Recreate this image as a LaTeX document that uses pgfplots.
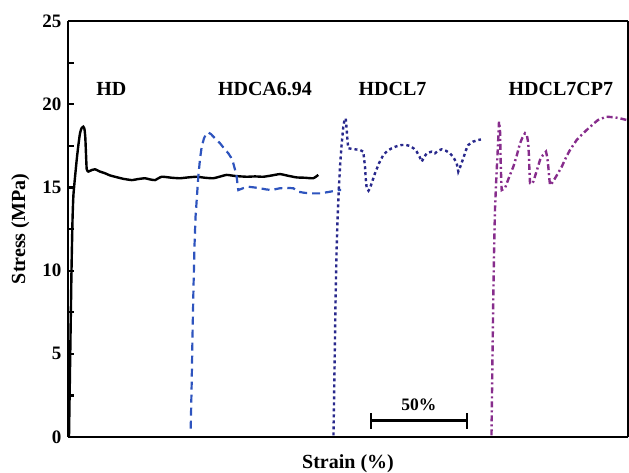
\documentclass[border=0pt]{standalone}
\usepackage{pgfplots}
\pgfplotsset{compat=1.18}
\usepackage{fontspec}
\setmainfont{Liberation Serif}
\definecolor{cablue}{RGB}{46,84,190}
\definecolor{clnavy}{RGB}{40,40,140}
\definecolor{cppurple}{RGB}{135,45,140}
\begin{document}
\begin{tikzpicture}
\useasboundingbox (-68pt,-35pt) rectangle (561pt,437pt);
\begin{axis}[
  at={(0pt,0pt)}, anchor=south west,
  scale only axis, width=560pt, height=416pt,
  xmin=0, xmax=291.67, ymin=0, ymax=25,
  axis lines=left, axis line style={-, line width=2.8pt},
  xtick=\empty,
  ytick={0,5,10,15,20,25},
  minor ytick={2.5,7.5,12.5,17.5,22.5},
  tick align=inside,
  major tick length=6pt, minor tick length=6pt,
  every tick/.style={black, line width=2.2pt},
  tick label style={font=\fontsize{19}{19}\selectfont\bfseries},
  /pgf/number format/assume math mode=true,
  yticklabel style={xshift=-3pt},
  xlabel={Strain (\%)}, ylabel={Stress (MPa)},
  label style={font=\fontsize{20}{20}\selectfont\bfseries},
  xlabel style={at={(axis description cs:0.5,0)}, anchor=north, yshift=-14pt},
  ylabel style={at={(axis description cs:0,0.5)}, anchor=south, yshift=35pt},
  clip=false,
]
% HD
\addplot[black, line width=2.4pt, smooth, tension=0.3] coordinates {
(0.52,0) (1.30,6) (1.82,10) (2.34,13) (2.86,14.6) (4.53,16.65) (5.47,17.6) (6.25,18.25)
(7.03,18.55) (7.97,18.65) (8.59,18.5) (9.01,18.0) (9.38,17) (9.74,16.1) (10.57,15.95)
(12.5,16.05) (14.06,16.09) (16.67,15.95) (19.27,15.85) (21.88,15.72) (24.48,15.64)
(28.65,15.52) (33.18,15.44) (36.46,15.5) (40.10,15.55) (42.71,15.48) (45.31,15.44)
(48.80,15.64) (54.01,15.58) (58.33,15.55) (62.5,15.6) (67.03,15.64) (71.35,15.58)
(75.68,15.55) (79.17,15.65) (82.66,15.75) (87.5,15.68) (93.07,15.64) (97.40,15.66)
(101.72,15.64) (106.25,15.72) (110.42,15.8) (114.58,15.7) (119.11,15.6) (123.44,15.58)
(127.76,15.55) (130.36,15.75)
};
% HDCA6.94
\addplot[cablue, line width=2.2pt, dash pattern=on 8pt off 5pt] coordinates {
(63.91,0.5) (64.38,3) (64.84,6) (65.36,9) (65.89,11.5) (66.41,13.2) (67.03,14.24)
(67.86,15.64) (68.75,16.7) (69.64,17.45) (70.83,17.95) (71.88,18.2) (73.07,18.3)
(74.48,18.2) (76.56,17.95) (79.17,17.65) (81.25,17.35) (83.49,17.05) (84.90,16.8)
(86.09,16.45) (87.14,16.0) (87.86,15.64) (88.28,15.2) (88.70,14.84) (91.15,14.95)
(93.91,15.04) (96.88,15.0) (100.0,14.95) (103.13,14.88) (106.09,14.84) (108.33,14.9)
(110.42,14.95) (114.06,14.97) (117.34,14.95) (119.95,14.74) (122.92,14.68) (126.04,14.64)
(131.25,14.64) (136.46,14.74) (140.78,14.84) (142.19,14.84)
};
% HDCL7
\addplot[clnavy, line width=2.4pt, dash pattern=on 3pt off 3pt] coordinates {
(138.28,0.1) (138.80,4) (139.32,8) (139.84,11) (140.36,13) (140.89,14.5) (141.67,16.24)
(142.45,17.5) (143.39,18.65) (144.01,19.05) (144.64,19.15) (145.16,18.45) (145.57,17.8)
(145.99,17.35) (149.48,17.29) (152.08,17.25) (153.80,17.15) (154.69,16.24) (155.10,15.5)
(155.57,14.95) (156.51,14.8) (157.29,14.95) (158.59,15.4) (159.90,15.85) (161.98,16.45)
(164.22,16.95) (166.41,17.2) (168.59,17.35) (171.09,17.47) (173.80,17.55) (176.04,17.55)
(178.13,17.49) (179.95,17.35) (181.61,17.15) (183.07,16.85) (184.22,16.55) (185.42,16.8)
(186.82,17.05) (188.02,17.1) (189.43,17.15) (191.15,17.05) (192.71,17.2) (194.64,17.29)
(196.88,17.2) (198.96,17.05) (200.78,16.8) (202.45,16.45) (203.28,15.95) (204.17,16.2)
(205.89,16.75) (207.29,17.25) (208.49,17.55) (210.94,17.75) (213.70,17.85) (215.10,17.88)
};
% HDCL7CP7
\addplot[cppurple, line width=2.4pt, dash pattern=on 6pt off 3pt on 2pt off 3pt] coordinates {
(220.57,0.1) (220.99,4) (221.46,8) (221.88,11) (222.40,13.74) (223.18,15.8) (223.85,17.3)
(224.48,18.95) (225.00,18.5) (225.36,16.5) (225.68,15.3) (225.89,14.84) (227.60,14.95)
(229.69,15.6) (231.93,16.24) (233.70,16.9) (235.42,17.65) (236.72,18.0) (238.02,18.25)
(239.06,18.1) (239.74,17.65) (240.10,16.8) (240.26,16.24) (240.63,15.25) (241.51,15.2)
(242.34,15.34) (244.01,15.95) (245.83,16.65) (247.40,16.95) (248.96,17.15) (249.64,16.8)
(250.16,16.24) (250.63,15.6) (251.04,15.14) (252.34,15.3) (253.65,15.55) (255.47,15.9)
(257.14,16.24) (259.38,16.8) (261.46,17.25) (264.95,17.85) (267.45,18.15) (270.16,18.45)
(273.44,18.8) (276.04,19.05) (280.36,19.25) (284.74,19.21) (287.5,19.15) (291.0,19.05)
};
% top and right frame
\draw[line width=2.8pt] (rel axis cs:0,1) -- (rel axis cs:1,1);
\draw[line width=1.4pt] (rel axis cs:1,1) -- (rel axis cs:1,0);
% labels
\node[font=\fontsize{20}{20}\selectfont\bfseries] at (axis cs:22.55,20.91) {HD};
\node[font=\fontsize{20}{20}\selectfont\bfseries] at (axis cs:102.6,20.91) {HDCA6.94};
\node[font=\fontsize{20}{20}\selectfont\bfseries] at (axis cs:169.0,20.91) {HDCL7};
\node[font=\fontsize{20}{20}\selectfont\bfseries] at (axis cs:256.7,20.91) {HDCL7CP7};
% scale bar
\draw[line width=2.6pt] (axis cs:157.66,0.98) -- (axis cs:207.66,0.98);
\draw[line width=2.2pt] (axis cs:157.66,0.5) -- (axis cs:157.66,1.46);
\draw[line width=2.2pt] (axis cs:207.66,0.5) -- (axis cs:207.66,1.46);
\node[font=\fontsize{17.5}{17.5}\selectfont\bfseries] at (axis cs:182.8,1.95) {50\%};
\end{axis}
\end{tikzpicture}
\end{document}
